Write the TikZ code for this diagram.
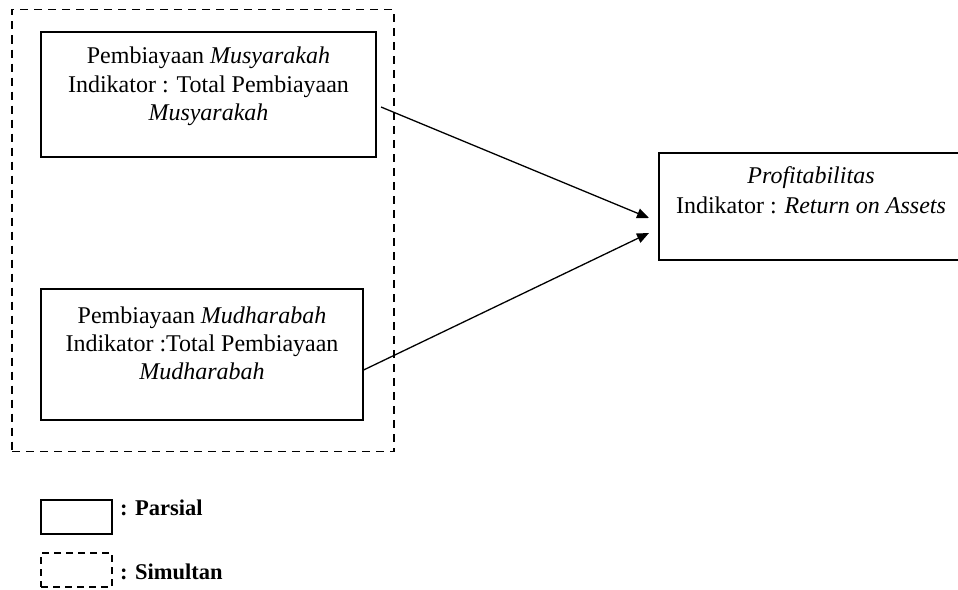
\documentclass[tikz,border=0pt]{standalone}
\usepackage{fontspec}
\setmainfont{Liberation Serif}
\usetikzlibrary{arrows.meta}
\begin{document}
\begin{tikzpicture}[x=1pt,y=-1pt,
  box/.style={draw=black, line width=1.2pt, rectangle, inner sep=0pt},
  dbox/.style={draw=black, line width=1.5pt, dash pattern=on 8pt off 6pt, rectangle, inner sep=0pt},
  txt/.style={inner sep=0pt, anchor=base, font=\fontsize{24}{29}\selectfont},
  ltxt/.style={inner sep=0pt, anchor=base west, font=\fontsize{22.5}{27}\selectfont\bfseries},
  arr/.style={draw=black, line width=1.3pt, -{Triangle[length=12pt,width=10pt]}}]
\useasboundingbox (0,0) rectangle (958,589);
\clip (0,0) rectangle (958,589);
% outer dashed group
\node[dbox, minimum width=382pt, minimum height=442pt] (grp) at (203,230.5) {};
% box 1
\node[box, minimum width=335pt, minimum height=125pt] (b1) at (208.5,94.5) {};
\node[txt] (b1l1) at (208.5,63) {Pembiayaan \textit{Musyarakah}};
\node[txt] (b1l2) at (208.5,92) {Indikator : Total Pembiayaan};
\node[txt] (b1l3) at (208.5,120) {\textit{Musyarakah}};
% box 2
\node[box, minimum width=322pt, minimum height=131pt] (b2) at (202,354.5) {};
\node[txt] (b2l1) at (202,323) {Pembiayaan \textit{Mudharabah}};
\node[txt] (b2l2) at (202,351.5) {Indikator :Total Pembiayaan};
\node[txt] (b2l3) at (202,379) {\textit{Mudharabah}};
% right box
\node[box, minimum width=304pt, minimum height=107pt] (rb) at (811,206.5) {};
\node[txt] (rl1) at (811,183) {\textit{Profitabilitas}};
\node[txt] (rl2) at (811,213) {Indikator : \textit{Return on Assets}};
% arrows
\coordinate (s1) at (381,107);
\coordinate (e1) at (649,218);
\coordinate (s2) at (b2.east |- 0,370);
\coordinate (e2) at (649,233);
\draw[arr] (s1) -- (e1);
\draw[arr] (s2) -- (e2);
% legend
\node[box, minimum width=71pt, minimum height=34pt] (lg1) at (76.5,517) {};
\node[ltxt] (lt1) at (120,515) {: Parsial};
\node[dbox, line width=1.2pt, dash pattern=on 7pt off 5pt, minimum width=71pt, minimum height=34pt] (lg2) at (76.5,570) {};
\node[ltxt] (lt2) at (120,579) {: Simultan};
\end{tikzpicture}
\end{document}
